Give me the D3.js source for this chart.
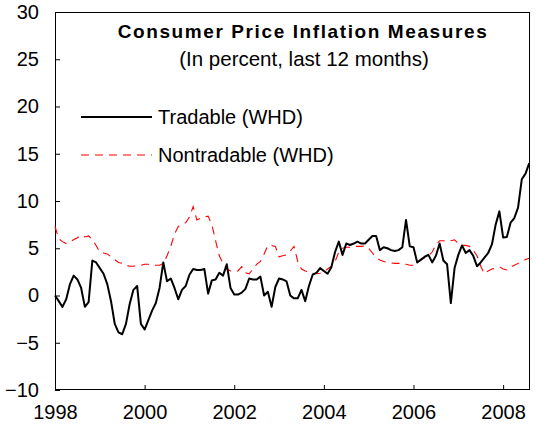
<!DOCTYPE html>
<html>
<head>
<meta charset="utf-8">
<script src="https://cdn.jsdelivr.net/npm/d3@7"></script>
<style>
  html, body { margin: 0; padding: 0; background: #fff; }
  svg { display: block; }
  text { font-family: "Liberation Sans", Arial, sans-serif; fill: #000; }
</style>
</head>
<body>
<svg id="chart" width="536" height="430"></svg>
<script>
// Monthly observations, Jan 1998 .. Aug 2008
const startYear = 1998;
const tradable = [
  0.0, -0.6, -1.2, -0.4, 1.2, 2.1, 1.7, 0.8, -1.2, -0.7, 3.7, 3.5,
  2.9, 2.3, 1.2, -0.6, -3.0, -3.9, -4.1, -3.0, -0.9, 0.6, 1.0, -3.0,
  -3.6, -2.6, -1.6, -0.8, 0.8, 3.5, 1.5, 1.8, 0.8, -0.4, 0.6, 1.0,
  2.2, 2.8, 2.7, 2.7, 2.8, 0.2, 1.6, 1.7, 2.4, 2.1, 3.3, 0.8,
  0.1, 0.1, 0.3, 0.7, 1.8, 1.7, 1.7, 2.0, 0.0, 0.4, -1.2, 0.9,
  1.8, 1.7, 1.5, 0.0, -0.3, -0.3, 0.6, -0.6, 1.0, 2.2, 2.4, 2.9,
  2.6, 2.3, 3.0, 4.6, 5.7, 4.3, 5.5, 5.35, 5.5, 5.7, 5.5, 5.5,
  5.9, 6.3, 6.3, 4.8, 5.1, 5.0, 4.8, 4.7, 4.8, 5.1, 8.0, 5.2,
  5.1, 3.5, 3.8, 4.1, 4.3, 3.5, 4.2, 5.5, 3.7, 3.3, -0.8, 2.9,
  4.3, 5.3, 4.5, 4.8, 4.2, 3.1, 3.5, 4.0, 4.5, 5.4, 7.5, 8.9,
  6.15, 6.2, 7.7, 8.2, 9.3, 12.3, 12.9, 14.0
];
const nontradable = [
  7.3, 6.0, 5.7, 5.5, 5.7, 5.9, 6.1, 6.4, 6.2, 6.3, 5.9, 5.3,
  4.6, 4.5, 4.4, 4.1, 3.8, 3.5, 3.4, 3.2, 3.1, 3.1, 3.2, 3.2,
  3.3, 3.3, 3.2, 3.2, 3.2, 3.4, 4.2, 5.2, 6.5, 7.3, 7.6, 7.7,
  8.3, 9.4, 8.0, 8.2, 8.3, 8.4, 7.5, 5.8, 4.2, 3.4, 2.8, 2.6,
  2.5, 2.6, 3.05, 2.4, 2.3, 2.8, 3.3, 3.6, 4.4, 5.3, 5.3, 5.2,
  4.1, 4.2, 4.3, 4.7, 5.2, 3.6, 2.8, 2.6, 2.5, 2.35, 2.3, 2.35,
  2.5, 2.8, 3.1, 3.6, 4.6, 5.0, 5.1, 5.1, 5.2, 5.2, 5.2, 5.25,
  5.0, 4.5, 4.0, 3.75, 3.6, 3.5, 3.45, 3.4, 3.4, 3.4, 3.3, 3.2,
  3.2, 3.5, 3.75, 4.0, 4.2, 4.6, 5.35, 5.8, 5.8, 5.7, 5.8, 5.9,
  5.5, 5.3, 5.3, 5.2, 4.8, 4.2, 3.1, 2.3, 2.6, 2.8, 2.9, 3.05,
  2.8, 2.7, 3.0, 3.2, 3.4, 3.6, 3.8, 3.95
];
const xTickYears = [1998, 2000, 2002, 2004, 2006, 2008];
const yTickValues = [-10, -5, 0, 5, 10, 15, 20, 25, 30];
const seriesNames = ["Tradable (WHD)", "Nontradable (WHD)"];
const titleText = "Consumer Price Inflation Measures";
const subtitleText = "(In percent, last 12 months)";

const svg = d3.select("#chart");
const plot = { left: 55, right: 530, top: 12, bottom: 390 };

const x = d3.scaleLinear().domain([1998, 2008.6]).range([plot.left, plot.right]);
const y = d3.scaleLinear().domain([-10, 30]).range([plot.bottom, plot.top]);

const toPoints = arr => arr.map((v, i) => ({ t: startYear + i / 12, v }));

// Axes (ticks inside)
const xAxis = svg.append("g")
  .attr("transform", `translate(0,${plot.bottom})`)
  .call(d3.axisBottom(x).tickValues(xTickYears).tickSizeInner(-5).tickSizeOuter(0).tickPadding(15).tickFormat(d3.format("d")));
const yAxis = svg.append("g")
  .attr("transform", `translate(${plot.left},0)`)
  .call(d3.axisLeft(y).tickValues(yTickValues).tickSizeInner(-5).tickSizeOuter(0).tickPadding(16));

[xAxis, yAxis].forEach(g => {
  g.select(".domain").remove();
  g.selectAll(".tick line").attr("stroke", "#000").attr("stroke-width", 1);
  g.selectAll(".tick text").style("font-size", "20px").attr("fill", "#000")
    .style("font-family", '"Liberation Sans", Arial, sans-serif');
});
xAxis.selectAll(".tick text").attr("dy", "0.71em");

// Frame
svg.append("rect")
  .attr("x", plot.left + 0.5).attr("y", plot.top + 0.5)
  .attr("width", plot.right - plot.left - 1).attr("height", plot.bottom - plot.top - 1)
  .attr("fill", "none").attr("stroke", "#000").attr("stroke-width", 1);

const line = d3.line().x(d => x(d.t)).y(d => y(d.v));

svg.append("path")
  .datum(toPoints(nontradable))
  .attr("d", line)
  .attr("fill", "none")
  .attr("stroke", "#ff0000")
  .attr("stroke-width", 1.1)
  .attr("stroke-dasharray", "8,6");

svg.append("path")
  .datum(toPoints(tradable))
  .attr("d", line)
  .attr("fill", "none")
  .attr("stroke", "#000")
  .attr("stroke-width", 2)
  .attr("stroke-linejoin", "round");

// Title
svg.append("text")
  .attr("x", 303).attr("y", 38)
  .attr("text-anchor", "middle")
  .style("font-size", "19px").style("font-weight", "bold").style("letter-spacing", "1.6px")
  .text(titleText);
svg.append("text")
  .attr("x", 304).attr("y", 66)
  .attr("text-anchor", "middle")
  .style("font-size", "20.5px")
  .text(subtitleText);

// Legend
const legend = svg.append("g");
const legendRows = [
  { name: seriesNames[0], y: 117, stroke: "#000", width: 2, dash: null },
  { name: seriesNames[1], y: 155, stroke: "#ff0000", width: 1.1, dash: "8,6" }
];
legendRows.forEach(r => {
  legend.append("line")
    .attr("x1", 81).attr("x2", 152).attr("y1", r.y).attr("y2", r.y)
    .attr("stroke", r.stroke).attr("stroke-width", r.width)
    .attr("stroke-dasharray", r.dash);
  legend.append("text")
    .attr("x", 158).attr("y", r.y).attr("dy", "0.35em")
    .style("font-size", "20px")
    .text(r.name);
});
</script>
</body>
</html>
